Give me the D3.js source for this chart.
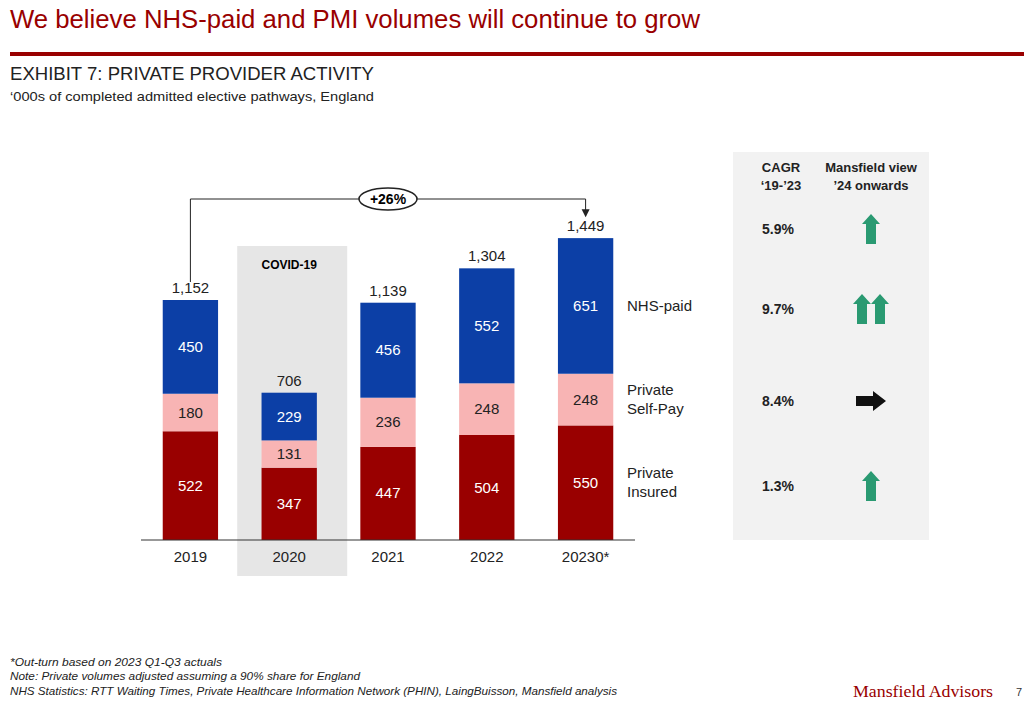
<!DOCTYPE html>
<html><head><meta charset="utf-8">
<script src="https://cdn.jsdelivr.net/npm/d3@7"></script>
<style>body{margin:0;background:#fff}svg{font-family:"Liberation Sans",Arial,sans-serif}</style>
</head><body><svg id="c" width="1024" height="710"></svg>
<script>
const years = ["2019","2020","2021","2022","20230*"];
const insured = [522,347,447,504,550];
const selfPay = [180,131,236,248,248];
const nhs = [450,229,456,552,651];
const totals = ["1,152","706","1,139","1,304","1,449"];
const seriesNames = ["Private Insured","Private Self-Pay","NHS-paid"];
const cagr = ["5.9%","9.7%","8.4%","1.3%"];
const views = ["up","upup","right","up"];
const colors = ["#990000","#f8b4b4","#0c3fa6"];

const svg = d3.select("#c");
svg.append("text").attr("x",10).attr("y",28).attr("font-size",25).attr("textLength",690).attr("lengthAdjust","spacingAndGlyphs").attr("fill","#990000").text("We believe NHS-paid and PMI volumes will continue to grow");
svg.append("rect").attr("x",10).attr("y",52).attr("width",1014).attr("height",4).attr("fill","#990000");
svg.append("text").attr("x",10).attr("y",80).attr("font-size",19).attr("textLength",364).attr("lengthAdjust","spacingAndGlyphs").attr("fill","#222").text("EXHIBIT 7: PRIVATE PROVIDER ACTIVITY");
svg.append("text").attr("x",10).attr("y",101).attr("font-size",13.5).attr("textLength",364).attr("lengthAdjust","spacingAndGlyphs").attr("fill","#222").text("‘000s of completed admitted elective pathways, England");

const x = d3.scaleBand().domain(years).range([141,635]).paddingInner(0.44).paddingOuter(0.22);
const y = d3.scaleLinear().domain([0,1152]).range([540,300]);
const bw = x.bandwidth();

svg.append("rect").attr("x",x("2020")+bw/2-52).attr("y",246).attr("width",110).attr("height",330).attr("fill","#e6e6e6");
svg.append("text").attr("x",x("2020")+bw/2).attr("y",269).attr("text-anchor","middle").attr("font-size",12).attr("font-weight","bold").text("COVID-19");

const stack = d3.stack().keys([0,1,2]).value((d,k)=>d[k]);
const rows = years.map((yr,i)=>[insured[i],selfPay[i],nhs[i]]);
const layers = stack(rows);
layers.forEach((L,k)=>{
  L.forEach((s,i)=>{
    svg.append("rect").attr("x",x(years[i])).attr("y",y(s[1])).attr("width",bw).attr("height",y(s[0])-y(s[1])).attr("fill",colors[k]);
    svg.append("text").attr("x",x(years[i])+bw/2).attr("y",(y(s[0])+y(s[1]))/2+5).attr("text-anchor","middle")
      .attr("font-size",15).attr("fill",k==1?"#222":"#fff").text(rows[i][k]);
  });
});
years.forEach((yr,i)=>{
  const t = insured[i]+selfPay[i]+nhs[i];
  svg.append("text").attr("x",x(yr)+bw/2).attr("y",y(t)-7).attr("text-anchor","middle").attr("font-size",15).attr("fill","#222").text(totals[i]);
  svg.append("text").attr("x",x(yr)+bw/2).attr("y",562).attr("text-anchor","middle").attr("font-size",15).attr("fill","#222").text(yr);
});
svg.append("line").attr("x1",141).attr("x2",635).attr("y1",540).attr("y2",540).attr("stroke","#333");

const x0 = x(years[0])+bw/2, x4 = x(years[4])+bw/2;
svg.append("path").attr("d",`M${x0},${y(1152)-18}V199H${x4}V${y(1449)-22}`).attr("fill","none").attr("stroke","#222").attr("stroke-width",1);
svg.append("path").attr("d",`M${x4-4},${y(1449)-29}L${x4+4},${y(1449)-29}L${x4},${y(1449)-21}Z`).attr("fill","#222");
svg.append("ellipse").attr("cx",(x0+x4)/2).attr("cy",199).attr("rx",29).attr("ry",11).attr("fill","#fff").attr("stroke","#222").attr("stroke-width",1.5);
svg.append("text").attr("x",(x0+x4)/2).attr("y",204).attr("text-anchor","middle").attr("font-size",14).attr("font-weight","bold").text("+26%");

const lab = [["Private","Insured"],["Private","Self-Pay"],["NHS-paid"]];
const last = layers.map(L=>L[4]);
lab.forEach((l,k)=>{
  const cy = (y(last[k][0])+y(last[k][1]))/2;
  l.forEach((s,j)=>svg.append("text").attr("x",627).attr("y",cy+5+(j-(l.length-1)/2)*19).attr("font-size",15).attr("fill","#222").text(s));
});

svg.append("rect").attr("x",733).attr("y",152).attr("width",196).attr("height",388).attr("fill","#f2f2f2");
[["CAGR",168],["‘19-’23",186]].forEach(d=>svg.append("text").attr("x",781).attr("y",d[1]+4).attr("text-anchor","middle").attr("font-size",13).attr("font-weight","bold").attr("fill","#222").text(d[0]));
[["Mansfield view",168],["’24 onwards",186]].forEach(d=>svg.append("text").attr("x",871).attr("y",d[1]+4).attr("text-anchor","middle").attr("font-size",13).attr("font-weight","bold").attr("fill","#222").text(d[0]));
const rowY = [229,309,401,486];
const upArrow = (cx,cy)=>`M${cx},${cy-15}L${cx+9},${cy-5}L${cx+5},${cy-5}L${cx+5},${cy+15}L${cx-5},${cy+15}L${cx-5},${cy-5}L${cx-9},${cy-5}Z`;
cagr.forEach((c,i)=>{
  svg.append("text").attr("x",778).attr("y",rowY[i]+5).attr("text-anchor","middle").attr("font-size",14).attr("font-weight","bold").attr("fill","#222").text(c);
  const cx=871, cy=rowY[i];
  if(views[i]=="up") svg.append("path").attr("d",upArrow(cx,cy)).attr("fill","#2a9a72");
  else if(views[i]=="upup"){svg.append("path").attr("d",upArrow(cx-9,cy)).attr("fill","#2a9a72");svg.append("path").attr("d",upArrow(cx+9,cy)).attr("fill","#2a9a72");}
  else svg.append("path").attr("d",`M${cx-15},${cy-5}L${cx+2},${cy-5}L${cx+2},${cy-10}L${cx+15},${cy}L${cx+2},${cy+10}L${cx+2},${cy+5}L${cx-15},${cy+5}Z`).attr("fill","#111");
});

const foot=[["*Out-turn based on 2023 Q1-Q3 actuals",666,212],["Note: Private volumes adjusted assuming a 90% share for England",680,350],["NHS Statistics: RTT Waiting Times, Private Healthcare Information Network (PHIN), LaingBuisson, Mansfield analysis",695,607]];
foot.forEach(f=>svg.append("text").attr("x",10).attr("y",f[1]).attr("font-size",11).attr("textLength",f[2]).attr("lengthAdjust","spacingAndGlyphs").attr("font-style","italic").attr("fill","#222").text(f[0]));
svg.append("text").attr("x",853).attr("y",697).attr("font-size",16).attr("textLength",140).attr("lengthAdjust","spacingAndGlyphs").attr("font-family","Liberation Serif,serif").attr("fill","#990000").text("Mansfield Advisors");
svg.append("text").attr("x",1016).attr("y",696).attr("font-size",11).attr("fill","#333").text("7");
</script></body></html>
